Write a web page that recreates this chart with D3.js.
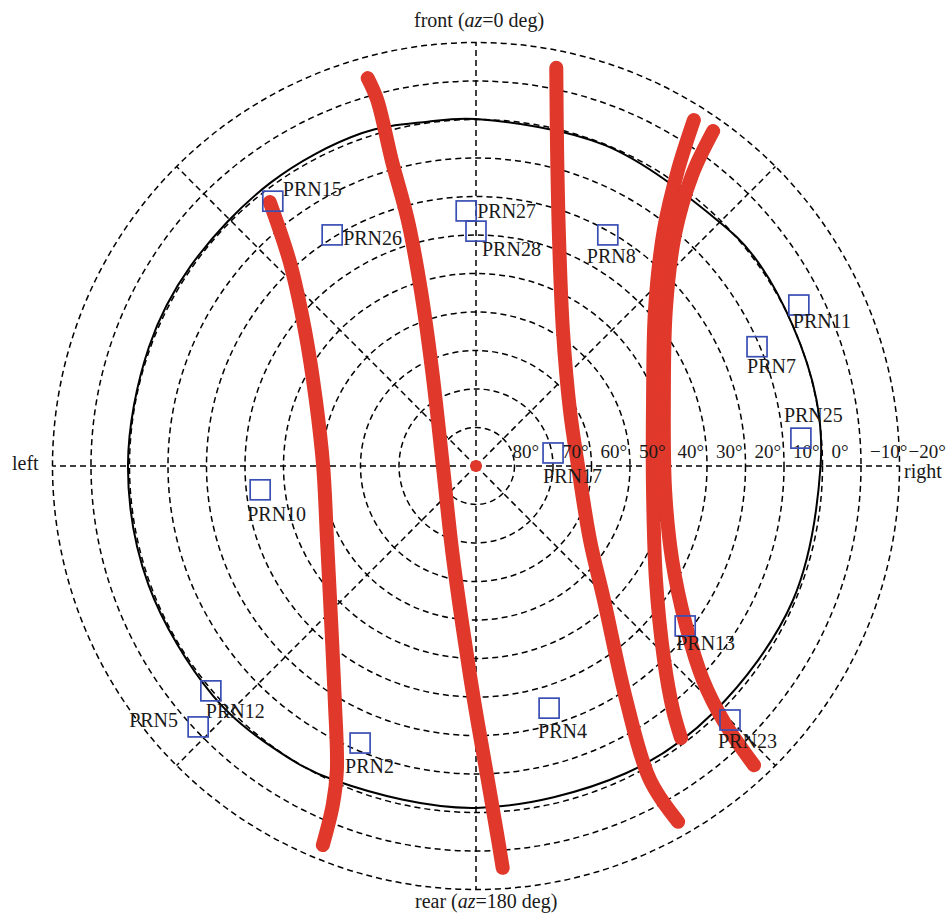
<!DOCTYPE html>
<html>
<head>
<meta charset="utf-8">
<script src="https://cdn.jsdelivr.net/npm/d3@7"></script>
<style>
  body { margin: 0; background: #fff; }
  text { font-family: "Liberation Serif", "Times New Roman", serif; font-size: 20px; fill: #1a1a1a; }
  text.ringlab { font-size: 19px; }
</style>
</head>
<body>
<svg id="chart" width="949" height="917"></svg>
<script>
// elevation rings (deg) and their tick labels
const ringElevations = [80, 70, 60, 50, 40, 30, 20, 10, 0, -10, -20];
const ringLabels = ["80°", "70°", "60°", "50°", "40°", "30°", "20°", "10°", "0°", "\u221210°", "\u221220°"];
const spokeAzimuths = [0, 45, 90, 135, 180, 225, 270, 315];

// visible satellites (azimuth, elevation in deg)
const prnNames = ["PRN15", "PRN26", "PRN27", "PRN28", "PRN8", "PRN11", "PRN7", "PRN25",
                  "PRN17", "PRN10", "PRN12", "PRN5", "PRN2", "PRN4", "PRN13", "PRN23"];
const prnAz = [322.5, 328.1, 357.8, 0.0, 29.7, 63.5, 67.0, 85.1,
               80.4, 263.7, 229.7, 226.8, 202.7, 163.2, 127.4, 135.0];
const prnEl = [3.3, 19.3, 23.7, 29.0, 20.9, -3.7, 10.7, 5.3,
               69.7, 33.6, -0.3, -9.0, 12.0, 24.3, 21.6, -3.3];

// sky mask / horizon polyline [az, el]
const maskAz = [0, 22, 44, 53, 66, 79, 90, 113, 136, 154, 180, 204, 216, 229, 250, 270, 290, 305, 324, 341, 352];
const maskEl = [-0.1, 0.2, 0.6, -0.4, 0.0, -0.1, 0.5, 0.6, 1.1, 1.2, 1.2, 0.5, -0.2, -0.7, -0.5, -0.4, -0.4, -0.5, -0.9, -1.4, -0.3];

// satellite ground tracks [az, el]
const trackA = [[322.0, 3.0], [317.6, 18.3], [308.5, 33.2], [292.4, 45.0], [270.0, 50.3], [243.6, 46.8],
                [223.3, 35.1], [211.1, 19.0], [204.6, 3.2], [202.9, -5.6], [202.0, -16.2]];
const trackB = [[344.4, -14.6], [344.9, -8.5], [344.6, 7.6], [344.5, 23.7], [342.6, 42.1], [335.4, 62.6],
                [270.0, 81.4], [195.9, 67.3], [184.5, 47.3], [180.5, 29.2], [178.1, 11.0], [176.7, -6.0], [176.2, -14.6]];
const trackC = [[11.4, -15.5], [14.4, 5.3], [20.2, 27.5], [32.6, 48.1], [59.2, 61.6], [90.0, 63.5],
                [123.0, 54.7], [136.3, 41.9], [147.3, 17.8], [151.0, -3.2], [150.4, -16.3]];
const trackD = [[32.2, -16.2], [34.3, -3.1], [38.5, 11.6], [48.9, 28.3], [69.5, 40.9], [97.7, 43.6],
                [122.3, 34.7], [135.9, 19.8], [141.1, 8.5], [143.0, 1.5]];
const trackE = [[35.3, -16.6], [36.6, -4.1], [40.7, 10.8], [50.6, 26.2], [70.7, 38.3], [97.2, 40.5],
                [115.6, 33.5], [127.3, 21.4], [133.3, 9.0], [135.9, -2.6], [137.1, -16.1]];
const tracks = [trackA, trackB, trackC, trackD, trackE];

// label placement relative to each square (layout only)
const labelOffset = {
  PRN15: [10, -5], PRN26: [11, 10], PRN27: [11, 7], PRN28: [6, 25], PRN8: [-21, 28],
  PRN11: [-6, 23], PRN7: [-10, 26], PRN25: [-17, -16], PRN17: [-10, 30], PRN10: [-13, 31],
  PRN12: [-5, 27], PRN5: [-69, 0], PRN2: [-15, 30], PRN4: [-11, 30], PRN13: [-9, 24], PRN23: [-12, 28]
};

const cx = 476, cy = 466;
const red = "#e0382a", blue = "#3a4fb4";
const rScale = d3.scaleLinear().domain([90, -20]).range([0, 423.5]);
const toRad = d => d * Math.PI / 180;

const svg = d3.select("#chart");
const g = svg.append("g").attr("transform", `translate(${cx},${cy})`);

// dashed rings
g.selectAll("circle.ring")
  .data(ringElevations)
  .enter().append("circle")
  .attr("class", "ring")
  .attr("r", d => rScale(d))
  .attr("fill", "none")
  .attr("stroke", "#000")
  .attr("stroke-width", 1.5)
  .attr("stroke-dasharray", "6,4");

// dashed spokes
g.selectAll("line.spoke")
  .data(spokeAzimuths)
  .enter().append("line")
  .attr("class", "spoke")
  .attr("x1", 0).attr("y1", 0)
  .attr("x2", d => rScale(-20) * Math.sin(toRad(d)))
  .attr("y2", d => -rScale(-20) * Math.cos(toRad(d)))
  .attr("stroke", "#000")
  .attr("stroke-width", 1.5)
  .attr("stroke-dasharray", "6,4");

// horizon mask
const maskPts = maskAz.map((a, i) => [a, maskEl[i]]);
const maskLine = d3.lineRadial()
  .angle(d => toRad(d[0]))
  .radius(d => rScale(d[1]))
  .curve(d3.curveCatmullRomClosed.alpha(0.5));

g.append("path")
  .attr("d", maskLine(maskPts))
  .attr("fill", "none")
  .attr("stroke", "#000")
  .attr("stroke-width", 2);

// tracks
const trackLine = d3.lineRadial()
  .angle(d => toRad(d[0]))
  .radius(d => rScale(d[1]))
  .curve(d3.curveCatmullRom);

g.selectAll("path.track")
  .data(tracks)
  .enter().append("path")
  .attr("class", "track")
  .attr("d", trackLine)
  .attr("fill", "none")
  .attr("stroke", red)
  .attr("stroke-width", 14)
  .attr("stroke-linecap", "round")
  .attr("stroke-linejoin", "round");

// zenith dot
g.append("circle").attr("r", 6).attr("fill", red);

// ring labels (80° sits left of its ring like the original)
g.selectAll("text.ringlab")
  .data(ringElevations)
  .enter().append("text")
  .attr("class", "ringlab")
  .attr("x", d => rScale(d) + (d === 80 ? -2 : 9))
  .attr("y", -8)
  .text((d, i) => ringLabels[i]);

// satellites
const sats = prnNames.map((n, i) => {
  const r = rScale(prnEl[i]), a = toRad(prnAz[i]);
  return { name: n, x: r * Math.sin(a), y: -r * Math.cos(a) };
});

const satG = g.selectAll("g.sat")
  .data(sats)
  .enter().append("g")
  .attr("class", "sat")
  .attr("transform", d => `translate(${d.x},${d.y})`);

satG.append("rect")
  .attr("x", -10).attr("y", -10)
  .attr("width", 20).attr("height", 20)
  .attr("fill", "none")
  .attr("stroke", blue)
  .attr("stroke-width", 1.7);

satG.append("text")
  .attr("x", d => labelOffset[d.name][0])
  .attr("y", d => labelOffset[d.name][1])
  .text(d => d.name);

// direction labels
svg.append("text").attr("x", 414).attr("y", 27)
  .html('front (<tspan font-style="italic">az</tspan>=0 deg)');
svg.append("text").attr("x", 415).attr("y", 908)
  .html('rear (<tspan font-style="italic">az</tspan>=180 deg)');
svg.append("text").attr("x", 12).attr("y", 470).text("left");
svg.append("text").attr("x", 904).attr("y", 478).text("right");
</script>
</body>
</html>
